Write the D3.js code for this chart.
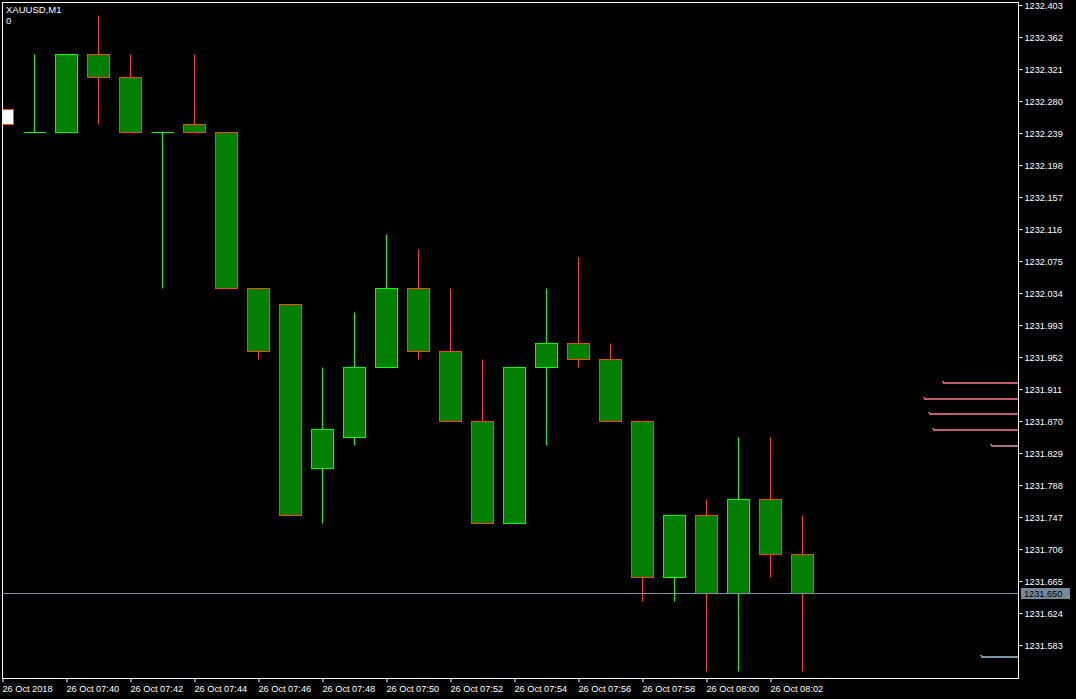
<!DOCTYPE html>
<html>
<head>
<meta charset="utf-8">
<script src="https://cdn.jsdelivr.net/npm/d3@7/dist/d3.min.js"></script>
<style>
  html, body { margin: 0; padding: 0; background: #000; }
  svg { display: block; }
  text { font-family: "Liberation Sans", Arial, sans-serif; }
</style>
</head>
<body>
<svg id="chart" width="1076" height="699"></svg>
<script>
// ---- data ----
const symbolTitle = "XAUUSD,M1";
const subTitle = "0";
const times = ["07:38","07:39","07:40","07:41","07:42","07:43","07:44","07:45","07:46","07:47","07:48","07:49","07:50",
               "07:51","07:52","07:53","07:54","07:55","07:56","07:57","07:58","07:59","08:00","08:01","08:02","08:03"];
const opens  = [1232.270,1232.240,1232.240,1232.340,1232.310,1232.240,1232.250,1232.240,1232.040,1232.020,1231.810,1231.850,1231.940,
                1232.040,1231.960,1231.870,1231.740,1231.940,1231.970,1231.950,1231.870,1231.670,1231.750,1231.650,1231.770,1231.700];
const highs  = [1232.270,1232.340,1232.340,1232.390,1232.340,1232.240,1232.340,1232.240,1232.040,1232.020,1231.940,1232.010,1232.110,
                1232.090,1232.040,1231.950,1231.940,1232.040,1232.080,1231.970,1231.870,1231.750,1231.770,1231.850,1231.850,1231.750];
const lows   = [1232.250,1232.240,1232.240,1232.250,1232.240,1232.040,1232.240,1232.040,1231.950,1231.750,1231.740,1231.840,1231.940,
                1231.950,1231.870,1231.740,1231.740,1231.840,1231.940,1231.870,1231.640,1231.640,1231.550,1231.550,1231.670,1231.550];
const closes = [1232.250,1232.240,1232.340,1232.310,1232.240,1232.240,1232.240,1232.040,1231.960,1231.750,1231.860,1231.940,1232.040,
                1231.960,1231.870,1231.740,1231.940,1231.970,1231.950,1231.870,1231.670,1231.750,1231.650,1231.770,1231.700,1231.650];
const priceTicks = ["1232.403","1232.362","1232.321","1232.280","1232.239","1232.198","1232.157","1232.116","1232.075","1232.034",
                    "1231.993","1231.952","1231.911","1231.870","1231.829","1231.788","1231.747","1231.706","1231.665","1231.624","1231.583"];
const timeTickLabels = ["26 Oct 2018","26 Oct 07:40","26 Oct 07:42","26 Oct 07:44","26 Oct 07:46","26 Oct 07:48","26 Oct 07:50",
                        "26 Oct 07:52","26 Oct 07:54","26 Oct 07:56","26 Oct 07:58","26 Oct 08:00","26 Oct 08:02"];
const timeTickTimes = ["07:38","07:40","07:42","07:44","07:46","07:48","07:50","07:52","07:54","07:56","07:58","08:00","08:02"];
const lastPrice = 1231.650;
const askDepthPrices = [1231.920,1231.900,1231.880,1231.860,1231.840];
const askDepthVolumes = [75,94,89,85,27];
const bidDepthPrices = [1231.570];
const bidDepthVolumes = [37];

// ---- layout ----
const W = 1076, H = 699;
const plotL = 2, plotR = 1018, plotT = 2, plotB = 678;
const BULL = "#00ff00", BEAR = "#ff4500", BODY = "#008000";

const parseT = s => { const [h,m] = s.split(":").map(Number); return new Date(2018, 9, 26, h, m); };

const svg = d3.select("#chart");
svg.append("rect").attr("width", W).attr("height", H).attr("fill", "#000");

const x = d3.scaleTime()
  .domain([parseT(times[0]), parseT(times[times.length-1])])
  .range([2.5, 2.5 + 32 * (times.length - 1)]);
const y = d3.scaleLinear()
  .domain([1231.583, 1232.403])
  .range([645.4, 4.8]);
const py = p => Math.round(y(p)) + 0.5;

svg.append("clipPath").attr("id", "plotclip")
  .append("rect").attr("x", plotL).attr("y", plotT).attr("width", plotR - plotL).attr("height", plotB - plotT);

const plot = svg.append("g").attr("clip-path", "url(#plotclip)");

const candles = times.map((t, i) => ({ t: parseT(t), o: opens[i], h: highs[i], l: lows[i], c: closes[i], i }));

// wicks
plot.selectAll("line.wick").data(candles).enter().append("line")
  .attr("class", "wick")
  .attr("x1", d => x(d.t)).attr("x2", d => x(d.t))
  .attr("y1", d => py(d.h)).attr("y2", d => py(d.l))
  .attr("stroke", d => d.c >= d.o ? BULL : BEAR)
  .attr("stroke-width", 1);

// bodies
candles.forEach(d => {
  const col = d.c >= d.o ? BULL : BEAR;
  const cx = x(d.t);
  const top = py(Math.max(d.o, d.c)), bot = py(Math.min(d.o, d.c));
  if (bot - top < 1) {
    plot.append("line").attr("x1", cx - 11).attr("x2", cx + 11.5)
      .attr("y1", top).attr("y2", top).attr("stroke", col).attr("stroke-width", 1);
  } else {
    plot.append("rect").attr("x", cx - 11).attr("y", top)
      .attr("width", 22).attr("height", bot - top)
      .attr("fill", d.i === 0 ? "#ffffff" : BODY)
      .attr("stroke", col).attr("stroke-width", 1);
  }
});

// depth lines at the right edge
const vol = d3.scaleLinear().domain([0, 100]).range([0, 100]);
askDepthPrices.forEach((p, i) => {
  const yy = Math.round(y(p)) + 1;
  const col = i === askDepthPrices.length - 1 ? "#a8707c" : "#c85a6e";
  const x0 = plotR - vol(askDepthVolumes[i]);
  plot.append("line").attr("x1", x0).attr("x2", plotR)
    .attr("y1", yy).attr("y2", yy).attr("stroke", col).attr("stroke-width", 2);
  plot.append("line").attr("x1", x0 - 1).attr("x2", x0 + 1)
    .attr("y1", yy - 1.5).attr("y2", yy - 1.5).attr("stroke", col).attr("stroke-width", 1);
});
bidDepthPrices.forEach((p, i) => {
  const yy = Math.round(y(p)) + 1;
  const x0 = plotR - vol(bidDepthVolumes[i]);
  plot.append("line").attr("x1", x0).attr("x2", plotR)
    .attr("y1", yy).attr("y2", yy).attr("stroke", "#7a94ae").attr("stroke-width", 2);
  plot.append("line").attr("x1", x0 - 1).attr("x2", x0 + 1)
    .attr("y1", yy - 1.5).attr("y2", yy - 1.5).attr("stroke", "#7a94ae").attr("stroke-width", 1);
});

// last price line
plot.append("line").attr("x1", plotL).attr("x2", plotR)
  .attr("y1", py(lastPrice)).attr("y2", py(lastPrice))
  .attr("stroke", "#8391a0").attr("stroke-width", 1);

// frame
svg.append("rect").attr("x", plotL + 0.5).attr("y", plotT + 0.5)
  .attr("width", plotR - plotL).attr("height", plotB - plotT)
  .attr("fill", "none").attr("stroke", "#ffffff").attr("stroke-width", 1);

// right price axis
const yAxis = d3.axisRight(y)
  .tickValues(priceTicks.map(Number))
  .tickFormat(d => d3.format(".3f")(d))
  .tickSize(4).tickPadding(2);
const ya = svg.append("g").attr("transform", `translate(${plotR + 0.5},0)`).call(yAxis);
ya.select(".domain").remove();
ya.selectAll(".tick").attr("transform", d => `translate(0,${py(d)})`);
ya.selectAll(".tick line").attr("stroke", "#fff");
ya.selectAll(".tick text").attr("fill", "#fff").attr("font-size", "9.2px")
  .attr("font-family", "Liberation Sans, Arial, sans-serif").attr("dy", "0.34em");

// last price label
const lpY = py(lastPrice);
svg.append("rect").attr("x", 1021).attr("y", lpY - 5.5).attr("width", 49).attr("height", 11).attr("fill", "#778899");
svg.append("text").attr("x", 1024).attr("y", lpY + 3.5).attr("fill", "#000")
  .attr("font-size", "9.2px").text(d3.format(".3f")(lastPrice));

// bottom time axis
const xAxis = d3.axisBottom(x)
  .tickValues(timeTickTimes.map(parseT))
  .tickFormat((d, i) => timeTickLabels[i])
  .tickSize(4).tickPadding(3);
const xa = svg.append("g").attr("transform", `translate(0,${plotB + 0.5})`).call(xAxis);
xa.select(".domain").remove();
xa.selectAll(".tick line").attr("stroke", "#fff");
xa.selectAll(".tick text").attr("fill", "#fff").attr("font-size", "9.2px")
  .attr("text-anchor", "start").attr("x", -0.5)
  .attr("font-family", "Liberation Sans, Arial, sans-serif");

// title texts
svg.append("text").attr("x", 6).attr("y", 13).attr("fill", "#fff").attr("font-size", "9.5px").text(symbolTitle);
svg.append("text").attr("x", 6).attr("y", 24).attr("fill", "#fff").attr("font-size", "9.5px").text(subTitle);
</script>
</body>
</html>
